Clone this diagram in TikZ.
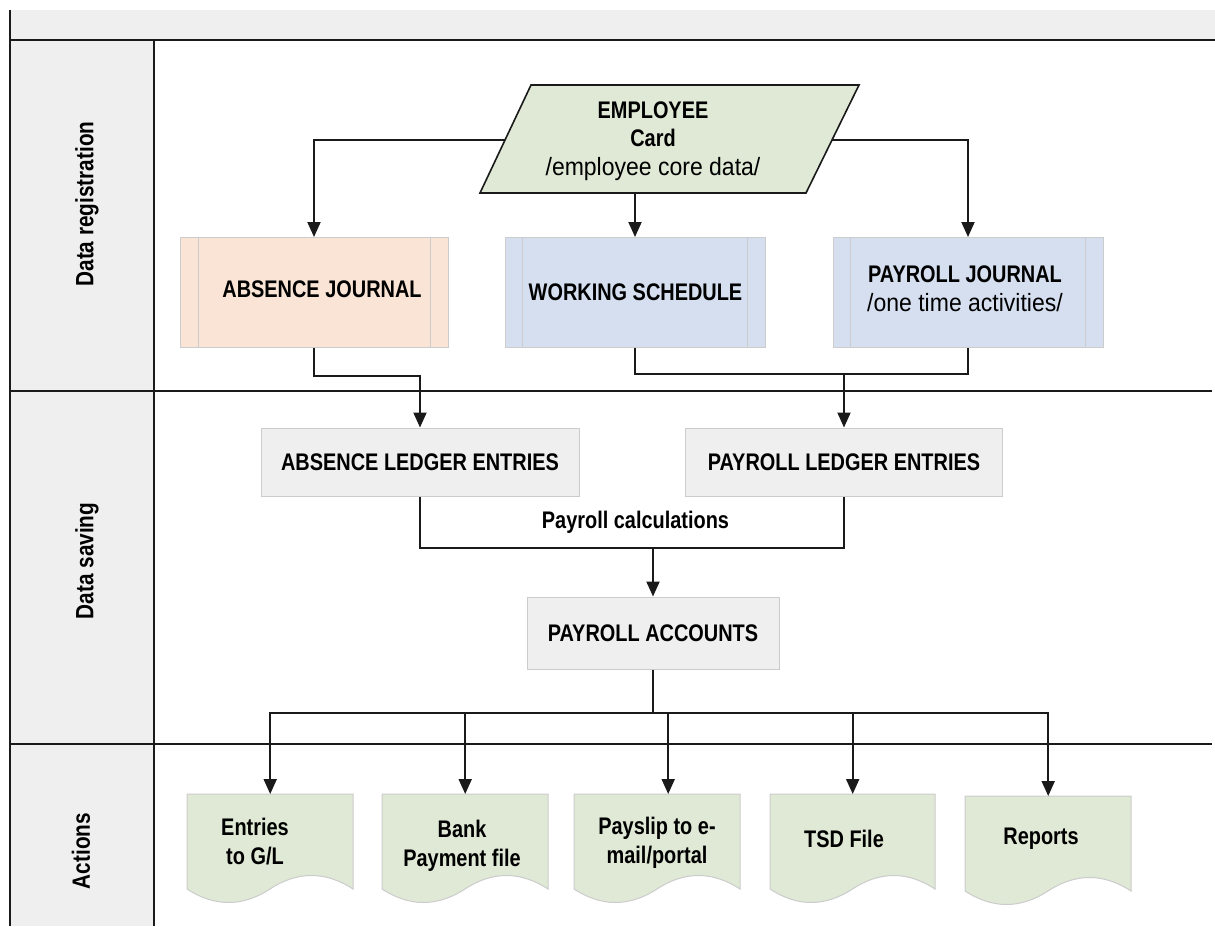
\documentclass[tikz,border=0pt]{standalone}
\usepackage{fontspec}
\setmainfont{Liberation Sans}[FakeStretch=0.83]
\newfontfamily\regfont{Liberation Sans}[FakeStretch=0.92]
\usetikzlibrary{arrows.meta,calc}
\definecolor{lanegray}{HTML}{EFEFEF}
\definecolor{linedark}{HTML}{1A1A1A}
\definecolor{peach}{HTML}{F9E4D5}
\definecolor{paleblue}{HTML}{D5DFF0}
\definecolor{palegreen}{HTML}{DFE9D5}
\definecolor{boxgray}{HTML}{EFEFEF}
\definecolor{edgegray}{HTML}{CCCCCC}
\tikzset{
  laneline/.style={draw=linedark, line width=2pt},
  conn/.style={draw=linedark, line width=2pt},
  arr/.style={conn, -{Triangle[length=15pt,width=13pt]}},
  procbox/.style={draw=edgegray, line width=1pt, minimum height=110pt, inner sep=0pt},
  innerline/.style={draw=edgegray, line width=1pt},
  graybox/.style={draw=edgegray, fill=boxgray, line width=1pt, inner sep=0pt,
    font=\bfseries\fontsize{24}{28}\selectfont},
  lanelabel/.style={rotate=90, inner sep=0pt, font=\bfseries\fontsize{25}{30}\selectfont},
  btxt/.style={inner sep=0pt, align=center, font=\bfseries\fontsize{24}{29}\selectfont},
  docnode/.style={minimum height=110pt, inner sep=0pt, anchor=north west},
  docoutline/.style={draw=edgegray, fill=palegreen, line width=1pt},
}
\newcommand\actiondoc[4]{% name, left x, top y, width
  \draw[docoutline] (#2,#3) -- ({#2+#4},#3) -- ({#2+#4},{#3+95})
    .. controls ({#2+0.8333*#4},{#3+77}) and ({#2+0.6667*#4},{#3+77}) .. ({#2+0.5*#4},{#3+95})
    .. controls ({#2+0.3333*#4},{#3+113}) and ({#2+0.1667*#4},{#3+113}) .. (#2,{#3+95}) -- cycle;
  \node[docnode, minimum width=#4pt] (#1) at (#2,#3) {};
}
\begin{document}
\begin{tikzpicture}[x=1pt,y=-1pt]
\useasboundingbox (0,0) rectangle (1215,926);
\fill[white] (0,0) rectangle (1215,926);
% swimlane frame
\fill[lanegray] (10,10) rectangle (1215,40);
\fill[lanegray] (10,40) rectangle (154,926);
\draw[laneline] (10,10) -- (10,926);
\draw[laneline] (10,40) -- (1215,40);
\draw[laneline] (154,40) -- (154,926);
\draw[laneline] (10,391) -- (1212,391);
\draw[laneline] (10,744) -- (1212,744);
\node[lanelabel] (l1) at (87,204) {Data registration};
\node[lanelabel] (l2) at (87,561) {Data saving};
\node[lanelabel] (l3) at (81,851) {Actions};

% employee card (parallelogram)
\coordinate (eTL) at (531,85);
\coordinate (eTR) at (859,85);
\coordinate (eBR) at (806,193);
\coordinate (eBL) at (480,193);
\draw[draw=linedark, fill=palegreen, line width=1.6pt] (eTL) -- (eTR) -- (eBR) -- (eBL) -- cycle;
\node[btxt, anchor=north, font=\bfseries\fontsize{24}{28.5}\selectfont] (emp) at (653,101.5)
  {EMPLOYEE\\Card\\{\regfont\mdseries\fontsize{25}{28.5}\selectfont /employee core data/}};
\coordinate (empL) at (505,140);
\coordinate (empR) at (832,140);
\coordinate (empB) at (635,193);

% journals
\node[procbox, fill=peach, minimum width=268pt] (aj) at (314,292.5) {};
\draw[innerline] ([xshift=19pt]aj.north west) -- ([xshift=19pt]aj.south west);
\draw[innerline] ([xshift=-18pt]aj.north east) -- ([xshift=-18pt]aj.south east);
\node[btxt] (ajt) at (322,289) {ABSENCE JOURNAL};

\node[procbox, fill=paleblue, minimum width=260pt] (ws) at (635,292.5) {};
\draw[innerline] ([xshift=18pt]ws.north west) -- ([xshift=18pt]ws.south west);
\draw[innerline] ([xshift=-18pt]ws.north east) -- ([xshift=-18pt]ws.south east);
\node[btxt] (wst) at (635.5,292) {WORKING SCHEDULE};

\node[procbox, fill=paleblue, minimum width=270pt] (pj) at (968,292.5) {};
\draw[innerline] ([xshift=18pt]pj.north west) -- ([xshift=18pt]pj.south west);
\draw[innerline] ([xshift=-18pt]pj.north east) -- ([xshift=-18pt]pj.south east);
\node[btxt, anchor=north] (pjt) at (965,266)
  {PAYROLL JOURNAL\\{\regfont\mdseries\fontsize{25}{29}\selectfont /one time activities/}};

% ledger entries
\node[graybox, minimum width=318pt, minimum height=68pt] (ale) at (420,462) {ABSENCE LEDGER ENTRIES};
\node[graybox, minimum width=317pt, minimum height=68pt] (ple) at (844,462) {PAYROLL LEDGER ENTRIES};
\node[btxt] (calc) at (635.5,522) {Payroll calculations};
\node[graybox, minimum width=252pt, minimum height=72pt] (pa) at (653,633) {PAYROLL ACCOUNTS};

% action documents
\actiondoc{d1}{187}{794}{166}
\actiondoc{d2}{382}{794}{166}
\actiondoc{d3}{574}{794}{166}
\actiondoc{d4}{770}{794}{165}
\actiondoc{d5}{965}{796}{166}
\node[btxt, anchor=north] (d1t) at (255,818) {Entries\\to G/L};
\node[btxt, anchor=north] (d2t) at (462,820) {Bank\\Payment file};
\node[btxt, anchor=north] (d3t) at (657,817) {Payslip to e-\\mail/portal};
\node[btxt, anchor=north] (d4t) at (844,830) {TSD File};
\node[btxt, anchor=north] (d5t) at (1041,828) {Reports};

% connectors
\draw[arr] (empL) -| (aj.north);
\draw[arr] (empB) -- (ws.north);
\draw[arr] (empR) -| (pj.north);

\coordinate (j1) at (844,374);
\draw[arr] (aj.south) -- ++(0,28) -| (ale.north);
\draw[conn] (ws.south) |- (j1) -| (pj.south);
\draw[arr] (j1) -- (ple.north);

\coordinate (j2) at (653,548);
\draw[conn] (ale.south) |- (j2) -| (ple.south);
\draw[arr] (j2) -- (pa.north);

\coordinate (j3) at (653,713);
\draw[conn] (pa.south) -- (j3);
\draw[arr] (j3) -| (d1.north);
\draw[arr] (j3) -| (d2.north);
\draw[arr] (j3) -| ([xshift=11pt]d3.north);
\draw[arr] (j3) -| (d4.north);
\draw[arr] (j3) -| (d5.north);
\end{tikzpicture}
\end{document}
